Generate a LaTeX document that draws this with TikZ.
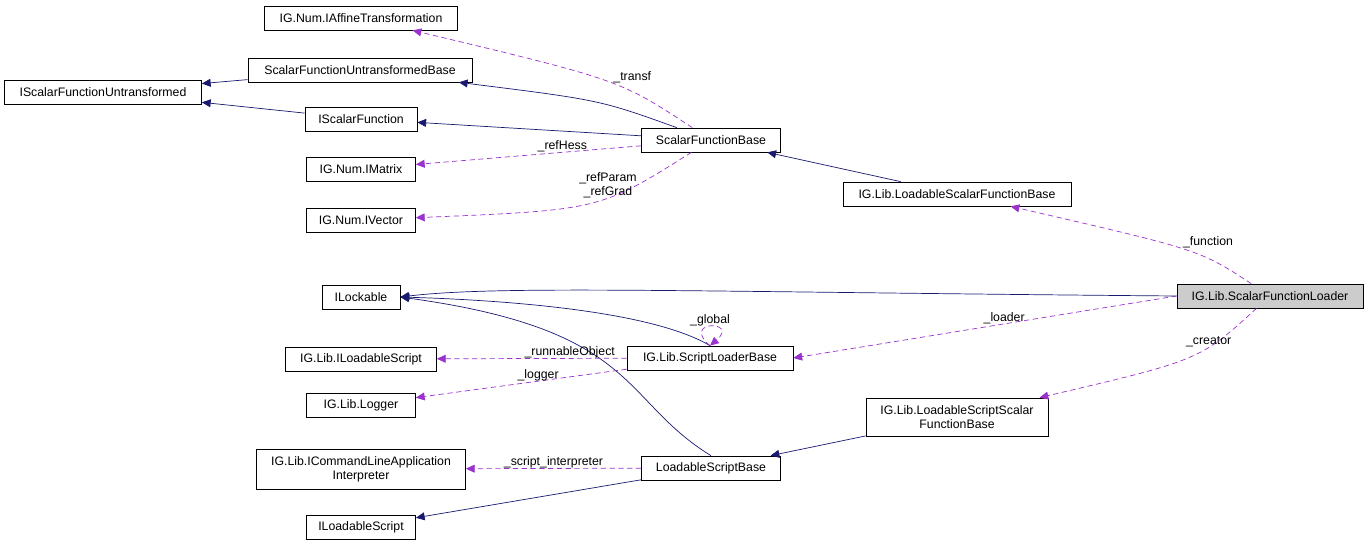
\documentclass[tikz,border=0pt]{standalone}
\usepackage{fontspec}
\setmainfont{Liberation Sans}
\usetikzlibrary{arrows.meta}
\definecolor{inh}{HTML}{191970}
\definecolor{use}{HTML}{9A32CD}
\tikzset{
  box/.style={draw, fill=white, minimum height=24*0.02cm, minimum width=#1*0.02cm, inner sep=1pt, align=center, font=\fontsize{7}{8}\selectfont},
  isa/.style={draw=inh, -{Triangle[length=5pt,width=4.5pt]}, fill=none},
  has/.style={draw=use, densely dashed, -{Triangle[length=5pt,width=4.5pt,fill=use]}, fill=none},
  lbl/.style={font=\fontsize{7}{8}\selectfont, inner sep=0pt}
}
\begin{document}
\begin{tikzpicture}[x=0.02cm,y=-0.02cm,every edge/.append style={}]
\useasboundingbox (0,0) rectangle (1369,548);
% Upper part
\node[box=193] (aff) at (361,18) {IG.Num.IAffineTransformation};
\node[box=224] (sfub) at (360,70) {ScalarFunctionUntransformedBase};
\node[box=197] (isfu) at (103,92) {IScalarFunctionUntransformed};
\node[box=112] (isf) at (361,119) {IScalarFunction};
\node[box=139] (sfb) at (711,140) {ScalarFunctionBase};
\node[box=109] (mat) at (361,169) {IG.Num.IMatrix};
\node[box=109] (vec) at (361,220) {IG.Num.IVector};
\node[box=228] (lsfb) at (957,194) {IG.Lib.LoadableScalarFunctionBase};
% Lower part
\node[box=78] (lock) at (361,297) {ILockable};
\node[box=186, fill=gray!40] (sfl) at (1270,296) {IG.Lib.ScalarFunctionLoader};
\node[box=166] (slb) at (710,358) {IG.Lib.ScriptLoaderBase};
\node[box=151] (ils) at (361,359) {IG.Lib.ILoadableScript};
\node[box=109] (log) at (361,405) {IG.Lib.Logger};
\node[box=182, minimum height=38*0.02cm] (lssfb) at (957,417) {IG.Lib.LoadableScriptScalar\\FunctionBase};
\node[box=209, minimum height=40*0.02cm] (icl) at (361,469) {IG.Lib.ICommandLineApplication\\Interpreter};
\node[box=139] (lsb) at (711,468) {LoadableScriptBase};
\node[box=109] (ilsc) at (361,527) {ILoadableScript};

% Inheritance
\draw[isa] (sfub) -- (isfu);
\draw[isa] (isf) -- (isfu);
\draw[isa] (sfb) .. controls (600,100) .. (sfub);
\draw[isa] (sfb) -- (isf);
\draw[isa] (lsfb) -- (sfb);
\draw[isa] (sfl.west) .. controls (700,292) and (500,285) .. (lock.east);
\draw[isa] (slb.north) .. controls (650,310) and (500,300) .. (lock.east);
\draw[isa] (lsb.north) .. controls (620,400) and (640,330) .. (lock.east);
\draw[isa] (lsb) -- (ilsc);
\draw[isa] (lssfb) -- (lsb);

% Usage
\draw[has] (sfb) .. controls (620,80) .. node[lbl, above right, pos=0.45] {\_transf} (aff);
\draw[has] (sfb) -- node[lbl, above, pos=0.35] {\_refHess} (mat);
\draw[has] (sfb) .. controls (600,210) .. node[lbl, above, pos=0.4, align=center] {\_refParam\\\_refGrad} (vec);
\draw[has] (sfl) .. controls (1200,250) .. node[lbl, above right, pos=0.5] {\_function} (lsfb);
\draw[has] (sfl.west) -- node[lbl, above, pos=0.45] {\_loader} (slb.east);
\draw[has] (sfl) .. controls (1200,360) .. node[lbl, above, pos=0.35] {\_creator} (lssfb);
\draw[has] (slb.north) .. controls (680,320) and (740,320) .. node[lbl, above, pos=0.5] {\_global} (slb.north);
\draw[has] (slb) -- node[lbl, above, pos=0.3] {\_runnableObject} (ils);
\draw[has] (slb) -- node[lbl, above, pos=0.42] {\_logger} (log);
\draw[has] (lsb) -- node[lbl, above, pos=0.5] {\_script\_interpreter} (icl);
\end{tikzpicture}
\end{document}
